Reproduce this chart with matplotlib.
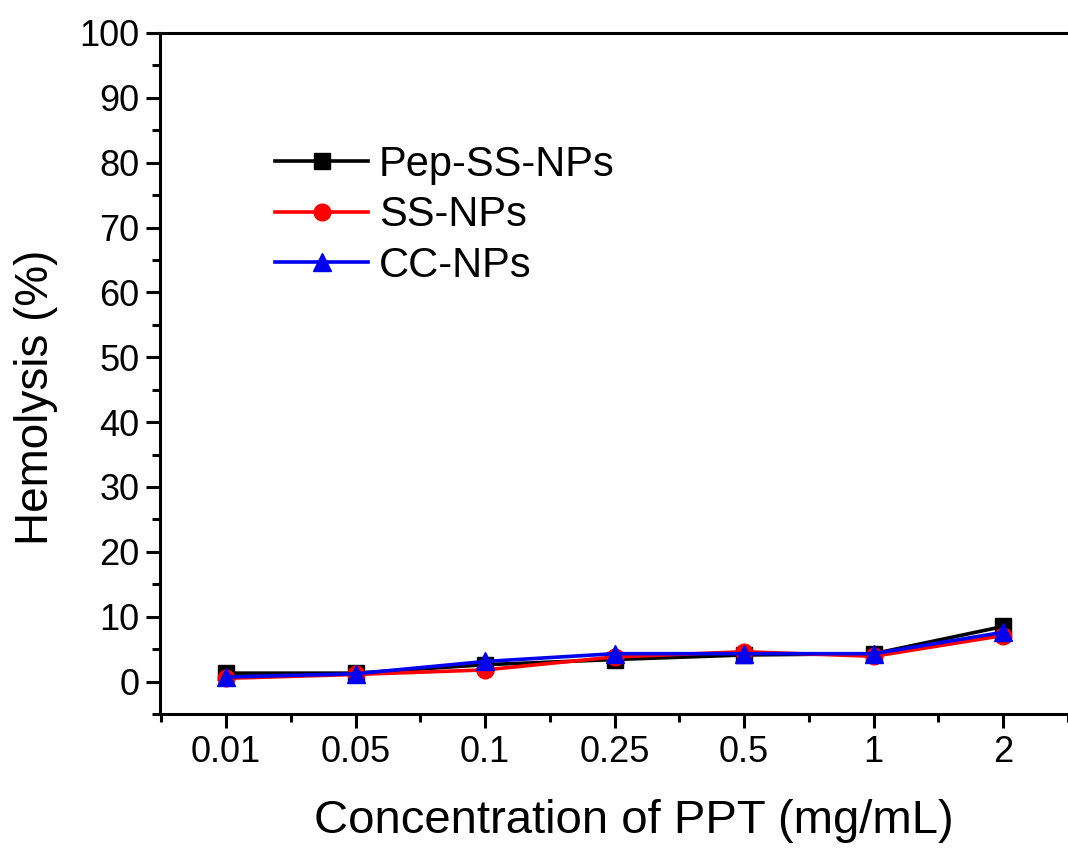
import matplotlib
matplotlib.use("Agg")
import matplotlib.pyplot as plt
from matplotlib.ticker import MultipleLocator

plt.rcParams['font.family'] = ['Liberation Sans', 'DejaVu Sans']

categories = ["0.01", "0.05", "0.1", "0.25", "0.5", "1", "2"]
pep_ss = [1.3, 1.3, 2.6, 3.4, 4.1, 4.3, 8.5]
ss = [0.5, 1.1, 1.8, 3.8, 4.6, 3.9, 7.1]
cc = [0.7, 1.2, 3.1, 4.3, 4.3, 4.3, 7.6]

fig = plt.figure(figsize=(10.68, 8.48), dpi=100)
ax = fig.add_axes([160/1068, 1-714/848, (1068-160)/1068, (714-33)/848])

x = list(range(len(categories)))
ax.plot(x, pep_ss, color='black', marker='s', markersize=11, lw=2.6, label='Pep-SS-NPs', zorder=3)
ax.plot(x, ss, color='#ff0000', marker='o', markersize=12, lw=2.6, label='SS-NPs', zorder=4)
ax.plot(x, cc, color='#0000ee', marker='^', markersize=13, lw=2.6, label='CC-NPs', zorder=5)

ax.set_xlim(-0.51, 6.42)
ax.set_ylim(-5, 100)
ax.set_xticks(x)
ax.set_xticklabels(categories)
ax.set_xticks([i + 0.5 for i in range(-1, 7)], minor=True)
ax.yaxis.set_major_locator(MultipleLocator(10))
ax.yaxis.set_minor_locator(MultipleLocator(5))

for s in ['left', 'bottom', 'top']:
    ax.spines[s].set_linewidth(2.2)
ax.spines['right'].set_visible(False)

ax.tick_params(axis='both', which='major', direction='out', length=10, width=2.2, labelsize=26, pad=5)
ax.tick_params(axis='both', which='minor', direction='out', length=6, width=2.2)
ax.tick_params(top=False, right=False, which='both')

ax.set_xlabel('Concentration of PPT (mg/mL)', fontsize=34)
ax.xaxis.set_label_coords(0.522, -0.125)
ax.set_ylabel('Hemolysis (%)', fontsize=33)
ax.yaxis.set_label_coords(-0.112, 0.465)

leg = ax.legend(loc='upper left', bbox_to_anchor=(0.108, 0.86), frameon=False, fontsize=30,
                handlelength=2.25, handletextpad=0.25, labelspacing=0.25, borderaxespad=0)

fig.savefig('out.png', dpi=100)
